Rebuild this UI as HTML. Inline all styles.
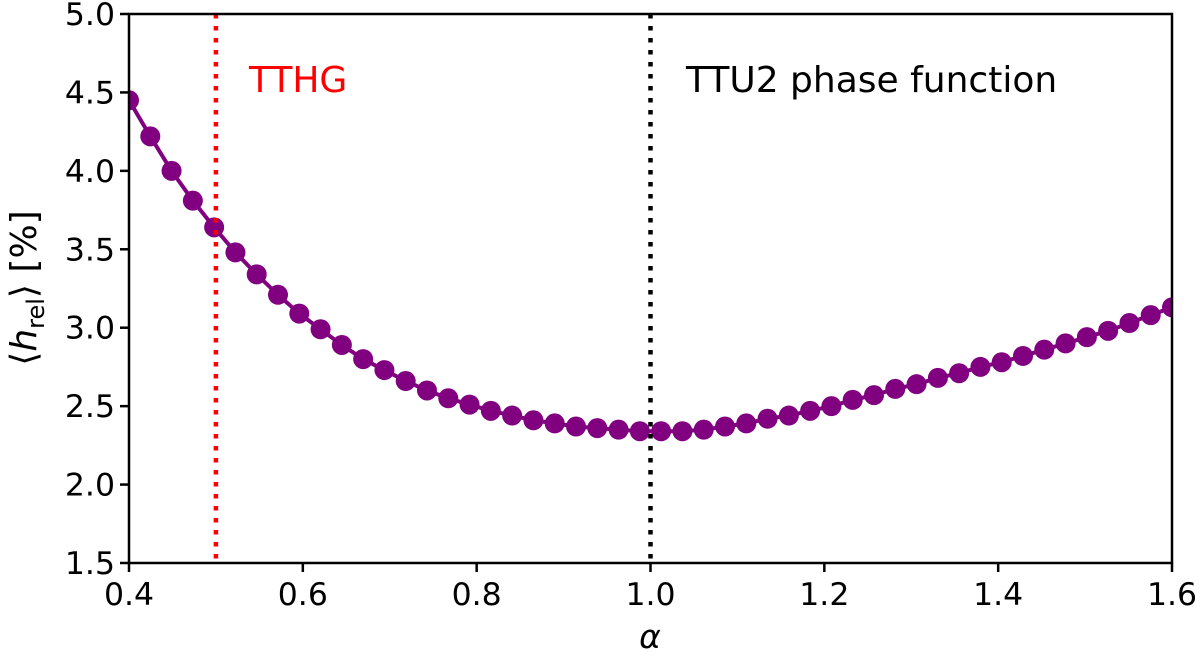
<!DOCTYPE html>
<html><head><meta charset="utf-8"><style>
body{margin:0;background:#fff}
svg text{font-family:"DejaVu Sans","Liberation Sans",sans-serif;fill:#000}
</style></head><body>
<svg id="chart" width="1200" height="657" viewBox="0 0 1200 657" xmlns="http://www.w3.org/2000/svg">
<g id="marks"></g>
<rect x="129" y="14" width="1043" height="549" fill="none" stroke="#000" stroke-width="2.5"/>
<g id="ticks"></g>
<text x="650" y="648" font-size="33" font-style="italic" text-anchor="middle">α</text>
<text transform="translate(36,288) rotate(-90)" font-size="36" text-anchor="middle">⟨<tspan font-style="italic">h</tspan><tspan font-size="24" dy="8">rel</tspan><tspan dy="-8">⟩ [%]</tspan></text>
<text x="249" y="92" font-size="36" style="fill:#ff0000">TTHG</text>
<text x="686" y="92" font-size="36">TTU2 phase function</text>
</svg>
<script>
const hrel = [4.45,4.22,4.00,3.81,3.64,3.48,3.34,3.21,3.09,2.99,2.89,2.80,2.73,2.66,2.60,2.55,2.51,2.47,2.44,2.41,2.39,2.37,2.36,2.35,2.34,2.34,2.34,2.35,2.37,2.39,2.42,2.44,2.47,2.50,2.54,2.57,2.61,2.64,2.68,2.71,2.75,2.78,2.82,2.86,2.90,2.94,2.98,3.03,3.08,3.13];
const alphaStart = 0.4, alphaEnd = 1.6;
const xTicks = ["0.4","0.6","0.8","1.0","1.2","1.4","1.6"];
const yTicks = ["1.5","2.0","2.5","3.0","3.5","4.0","4.5","5.0"];
const refLines = [0.5, 1.0];

const X0=129,X1=1172,Y0=563,Y1=14;
const xs=v=>X0+(v-0.4)/1.2*(X1-X0);
const ys=v=>Y0-(v-1.5)/3.5*(Y0-Y1);
const NS="http://www.w3.org/2000/svg";
const marks=document.getElementById('marks'), ticks=document.getElementById('ticks');
function mk(t,a,p){const e=document.createElementNS(NS,t);for(const k in a)e.setAttribute(k,a[k]);p.appendChild(e);return e;}

const clip=mk('clipPath',{id:'clp'},marks);mk('rect',{x:X0,y:Y1,width:X1-X0,height:Y0-Y1},clip);
const g=mk('g',{'clip-path':'url(#clp)'},marks);

const pts=hrel.map((v,i)=>[xs(alphaStart+i*(alphaEnd-alphaStart)/(hrel.length-1)),ys(v)]);
const line=mk('polyline',{points:pts.map(p=>p.join(',')).join(' '),fill:'none',stroke:'#800080','stroke-width':4},g);


pts.forEach((p,i)=>{
  const c=mk('circle',{cx:p[0],cy:p[1],r:10,fill:'#800080'},g);
  
  
});
refLines.forEach((v,i)=>{
  const l=mk('line',{x1:xs(v),x2:xs(v),y1:Y1,y2:Y0,stroke:i===0?'#ff0000':'#000','stroke-width':4.5,'stroke-dasharray':'4.5 7.5'},g);
  
  
});
xTicks.forEach(t=>{
  const x=xs(parseFloat(t));
  mk('line',{x1:x,x2:x,y1:Y0,y2:Y0+9,stroke:'#000','stroke-width':2.5},ticks);
  const tx=mk('text',{x:x,y:Y0+42,'font-size':31.5,'text-anchor':'middle'},ticks);
  tx.textContent=t;
  
  
});
yTicks.forEach(t=>{
  const y=ys(parseFloat(t));
  mk('line',{x1:X0-9,x2:X0,y1:y,y2:y,stroke:'#000','stroke-width':2.5},ticks);
  const tx=mk('text',{x:X0-14,y:y+11,'font-size':31.5,'text-anchor':'end'},ticks);
  tx.textContent=t;
  
  
});
</script>
</body></html>
